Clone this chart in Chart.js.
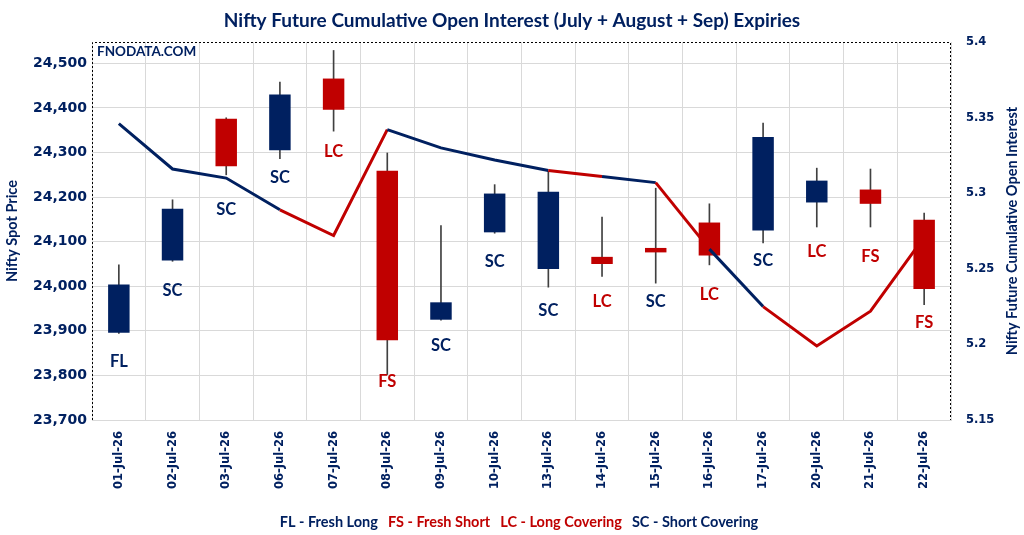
<!DOCTYPE html>
<html>
<head>
<meta charset="utf-8">
<script src="https://cdn.jsdelivr.net/npm/chart.js@4.4.1/dist/chart.umd.min.js"></script>
<style>
  html, body { margin: 0; padding: 0; background: #fff; }
  #wrap { width: 1024px; height: 535px; }
</style>
</head>
<body>
<div id="wrap"><canvas id="oiChart" width="1024" height="535"></canvas></div>
<script>
// Trading days
const dates = ['01-Jul-26', '02-Jul-26', '03-Jul-26', '06-Jul-26', '07-Jul-26', '08-Jul-26', '09-Jul-26', '10-Jul-26',
    '13-Jul-26', '14-Jul-26', '15-Jul-26', '16-Jul-26', '17-Jul-26', '20-Jul-26', '21-Jul-26', '22-Jul-26'];

// Nifty spot OHLC
const openPx = [23896, 24058, 24376, 24305, 24466, 24259, 23925, 24121, 24039, 24066, 24086, 24143, 24125, 24188, 24217, 24149];
const highPx = [24048, 24194, 24378, 24458, 24529, 24299, 24136, 24228, 24258, 24155, 24220, 24185, 24366, 24265, 24263, 24164];
const lowPx = [23894, 24056, 24250, 24286, 24348, 23802, 23924, 24119, 23998, 24022, 24007, 24048, 24097, 24133, 24133, 23959];
const closePx = [24004, 24174, 24269, 24430, 24396, 23879, 23964, 24208, 24212, 24050, 24076, 24069, 24335, 24237, 24185, 23994];

// Cumulative open interest (crore)
const cumOI = [5.346, 5.316, 5.310, 5.289, 5.272, 5.342, 5.330, 5.322, 5.315, 5.311, 5.307, 5.263, 5.225, 5.199, 5.222, 5.271];

// Daily build-up tag and the price level its label sits at
const signals = ['FL', 'SC', 'SC', 'SC', 'LC', 'FS', 'SC', 'SC', 'SC', 'LC', 'SC', 'LC', 'SC', 'LC', 'FS', 'FS'];
const labelAt = [23831, 23990, 24172, 24244, 24303, 23785, 23867, 24056, 23945, 23966, 23966, 23981, 24057, 24078, 24067, 23918];

const legendItems = [
    ['FL', 'FL - Fresh Long'],
    ['FS', 'FS - Fresh Short'],
    ['LC', 'LC - Long Covering'],
    ['SC', 'SC - Short Covering']
];

const NAVY = '#002060';
const RED = '#C00000';
const TICK_FONT = 'DejaVu Sans';
const TEXT_FONT = 'Lato';

function signalColor(s) {
    return (s === 'FS' || s === 'LC') ? RED : NAVY;
}

// extra drawing: dashed frame, watermark, tags, axis titles, legend
const decorPlugin = {
    id: 'decor',
    afterDatasetsDraw(chart) {
        const { ctx, chartArea: a, scales } = chart;
        ctx.save();
        // dashed plot frame
        ctx.strokeStyle = '#000';
        ctx.lineWidth = 1;
        ctx.setLineDash([2, 2]);
        ctx.beginPath();
        ctx.moveTo(a.left + 0.5, a.bottom);
        ctx.lineTo(a.left + 0.5, a.top + 0.5);
        ctx.lineTo(a.right - 0.5, a.top + 0.5);
        ctx.lineTo(a.right - 0.5, a.bottom);
        ctx.stroke();
        ctx.setLineDash([]);

        // watermark
        ctx.font = 'bold 13.5px ' + TEXT_FONT;
        ctx.fillStyle = NAVY;
        ctx.textAlign = 'left';
        ctx.textBaseline = 'middle';
        ctx.fillText('FNODATA.COM', a.left + 5, a.top + 10);

        // build-up tags
        ctx.font = 'bold 16.5px ' + TEXT_FONT;
        ctx.textAlign = 'center';
        signals.forEach((s, i) => {
            ctx.fillStyle = signalColor(s);
            ctx.fillText(s, scales.x.getPixelForValue(i), scales.y.getPixelForValue(labelAt[i]));
        });
        ctx.restore();
    },
    afterDraw(chart) {
        const { ctx, chartArea: a } = chart;
        const midY = (a.top + a.bottom) / 2;
        ctx.save();
        ctx.fillStyle = NAVY;
        ctx.font = 'bold 14.5px ' + TEXT_FONT;
        ctx.textAlign = 'center';
        ctx.textBaseline = 'middle';
        [[12, 'Nifty Spot Price'], [1012, 'Nifty Future Cumulative Open Interest']].forEach(([x, t]) => {
            ctx.save();
            ctx.translate(x, midY);
            ctx.rotate(-Math.PI / 2);
            ctx.fillText(t, 0, 0);
            ctx.restore();
        });

        // legend line
        ctx.font = 'bold 14.5px ' + TEXT_FONT;
        ctx.textAlign = 'left';
        const gap = 10;
        const widths = legendItems.map(it => ctx.measureText(it[1]).width);
        const total = widths.reduce((s, w) => s + w, 0) + gap * (legendItems.length - 1);
        let x = 519 - total / 2;
        legendItems.forEach((it, i) => {
            ctx.fillStyle = signalColor(it[0]);
            ctx.fillText(it[1], x, 522);
            x += widths[i] + gap;
        });
        ctx.restore();
    }
};

const chart = new Chart(document.getElementById('oiChart'), {
    data: {
        labels: dates,
        datasets: [{
            type: 'line',
            label: 'Cumulative OI',
            data: cumOI,
            yAxisID: 'y2',
            order: 0,
            borderWidth: 3,
            pointRadius: 0,
            tension: 0,
            segment: {
                borderColor: ctx => signalColor(signals[ctx.p1DataIndex])
            },
            borderColor: NAVY
        }, {
            type: 'bar',
            label: 'Body',
            data: dates.map((d, i) => [openPx[i], closePx[i]]),
            yAxisID: 'y',
            order: 1,
            grouped: false,
            categoryPercentage: 1,
            barPercentage: 0.4,
            backgroundColor: dates.map((d, i) => closePx[i] >= openPx[i] ? NAVY : RED)
        }, {
            type: 'bar',
            label: 'Wick',
            data: dates.map((d, i) => [lowPx[i], highPx[i]]),
            yAxisID: 'y',
            order: 2,
            grouped: false,
            barThickness: 1,
            backgroundColor: '#404040'
        }]
    },
    options: {
        responsive: false,
        animation: false,
        layout: { padding: 0 },
        plugins: {
            legend: { display: false },
            tooltip: { enabled: false },
            title: {
                display: true,
                text: 'Nifty Future Cumulative Open Interest (July + August + Sep) Expiries',
                color: NAVY,
                font: { family: TEXT_FONT, size: 19, weight: 'bold', lineHeight: 1.2 },
                padding: { top: 9, bottom: 10.2 }
            }
        },
        scales: {
            x: {
                type: 'category',
                offset: true,
                grid: { offset: true, color: '#d9d9d9', drawTicks: false },
                border: { color: '#d9d9d9' },
                ticks: {
                    color: NAVY,
                    font: { family: TICK_FONT, size: 11.5, weight: 'bold' },
                    minRotation: 90,
                    maxRotation: 90,
                    padding: 11,
                    autoSkip: false
                },
                afterFit: s => { s.height = 115; }
            },
            y: {
                position: 'left',
                min: 23700,
                max: 24548,
                grid: { color: '#d9d9d9', drawTicks: false },
                border: { display: false },
                ticks: {
                    stepSize: 100,
                    color: NAVY,
                    padding: 5,
                    font: { family: TICK_FONT, size: 14, weight: 'bold' },
                    callback: v => v.toLocaleString('en-US')
                },
                afterBuildTicks: s => { s.ticks = s.ticks.filter(t => t.value % 100 === 0); },
                afterFit: s => { s.width = 92; }
            },
            y2: {
                position: 'right',
                min: 5.15,
                max: 5.4,
                grid: { drawOnChartArea: false, drawTicks: false },
                border: { display: false },
                ticks: {
                    stepSize: 0.05,
                    color: NAVY,
                    padding: 15,
                    font: { family: TICK_FONT, size: 11.5, weight: 'bold' },
                    callback: v => String(parseFloat(v.toFixed(2)))
                },
                afterFit: s => { s.width = 73; }
            }
        }
    },
    plugins: [decorPlugin]
});
</script>
</body>
</html>
